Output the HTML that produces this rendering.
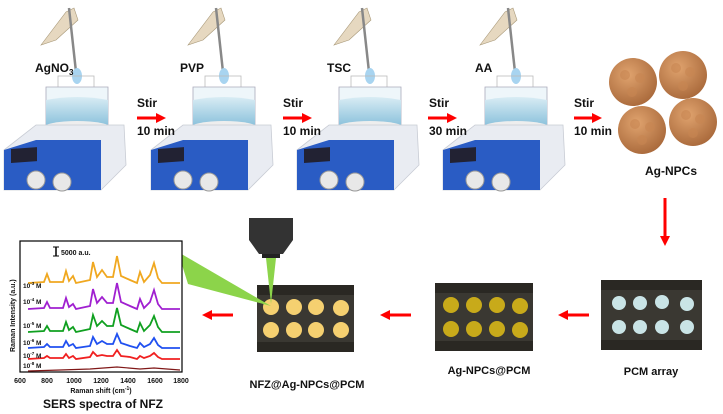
<!DOCTYPE html>
<html><head><meta charset="utf-8"><style>
body{margin:0;width:723px;height:414px;background:#fff;overflow:hidden}
svg{display:block}
text{font-family:"Liberation Sans",Arial,sans-serif;font-weight:bold;fill:#111}
</style></head><body>
<svg width="723" height="414" viewBox="0 0 723 414" xmlns="http://www.w3.org/2000/svg">
<defs>
<marker id="ah" markerWidth="10" markerHeight="10" refX="2" refY="5" orient="auto" markerUnits="userSpaceOnUse"><path d="M0,0 L10,5 L0,10 z" fill="#f00"/></marker>
<linearGradient id="glass" x1="0" y1="0" x2="0" y2="1"><stop offset="0" stop-color="#d8ecf4"/><stop offset="1" stop-color="#7ab8d6"/></linearGradient>
<radialGradient id="ball" cx="0.4" cy="0.35" r="0.7"><stop offset="0" stop-color="#e0a36e"/><stop offset="1" stop-color="#a8683a"/></radialGradient>
<g id="stir">
  <path d="M45,45 L70,12 L78,8 L82,20 L60,40 Z" fill="#e6d8c0" stroke="#a89878" stroke-width="0.6"/>
  <line x1="73" y1="8" x2="80" y2="72" stroke="#888" stroke-width="2.5"/>
  <ellipse cx="81" cy="76" rx="5" ry="8" fill="#a8d4f0"/>
  <rect x="62" y="76" width="36" height="30" fill="none" stroke="#bbb" stroke-width="0.8"/>
  <path d="M50,87 L112,87 L112,128 Q81,136 50,128 Z" fill="#eef6fa" stroke="#aab" stroke-width="0.8"/>
  <path d="M50,100 Q81,94 112,100 L112,128 Q81,136 50,128 Z" fill="url(#glass)"/>
  <ellipse cx="81" cy="132" rx="38" ry="9" fill="#ccc"/>
  <ellipse cx="81" cy="128" rx="34" ry="7" fill="#eee"/>
  <path d="M8,150 L40,125 L128,125 L130,165 L105,190 L8,190 Z" fill="#e9ecf2" stroke="#c8ccd4" stroke-width="0.8"/>
  <path d="M8,150 L40,140 L105,140 L105,190 L8,190 Z" fill="#2a5cc4"/>
  <rect x="15" y="150" width="26" height="14" fill="#223" transform="skewY(-4)"/>
  <circle cx="40" cy="180" r="9" fill="#e8e8e8" stroke="#999"/>
  <circle cx="66" cy="182" r="9" fill="#e8e8e8" stroke="#999"/>
</g>
</defs>

<use href="#stir" x="-4" y="0"/>
<use href="#stir" x="143" y="0"/>
<use href="#stir" x="289" y="0"/>
<use href="#stir" x="435" y="0"/>

<text x="35" y="72" font-size="12">AgNO<tspan font-size="8" dy="3">3</tspan></text>
<text x="180" y="72" font-size="12">PVP</text>
<text x="327" y="72" font-size="12">TSC</text>
<text x="475" y="72" font-size="12">AA</text>

<g stroke="#f00" stroke-width="3" marker-end="url(#ah)">
<line x1="137" y1="118" x2="158" y2="118"/>
<line x1="283" y1="118" x2="304" y2="118"/>
<line x1="428" y1="118" x2="449" y2="118"/>
<line x1="574" y1="118" x2="594" y2="118"/>
<line x1="665" y1="198" x2="665" y2="238"/>
<line x1="589" y1="315" x2="566" y2="315"/>
<line x1="411" y1="315" x2="388" y2="315"/>
<line x1="233" y1="315" x2="210" y2="315"/>
</g>
<g font-size="12">
<text x="137" y="107">Stir</text><text x="137" y="135">10 min</text>
<text x="283" y="107">Stir</text><text x="283" y="135">10 min</text>
<text x="429" y="107">Stir</text><text x="429" y="135">30 min</text>
<text x="574" y="107">Stir</text><text x="574" y="135">10 min</text>
</g>

<g fill="url(#ball)">
<circle cx="633" cy="82" r="24"/><circle cx="683" cy="75" r="24"/>
<circle cx="642" cy="130" r="24"/><circle cx="693" cy="122" r="24"/>
</g>
<g fill="#c88652" opacity="0.6">
<circle cx="625" cy="75" r="5"/><circle cx="640" cy="78" r="5"/><circle cx="632" cy="92" r="5"/>
<circle cx="676" cy="68" r="5"/><circle cx="690" cy="72" r="5"/><circle cx="683" cy="86" r="5"/>
<circle cx="635" cy="124" r="5"/><circle cx="650" cy="127" r="5"/><circle cx="642" cy="140" r="5"/>
<circle cx="686" cy="115" r="5"/><circle cx="700" cy="119" r="5"/><circle cx="693" cy="133" r="5"/>
</g>
<text x="645" y="175" font-size="12">Ag-NPCs</text>

<rect x="601" y="280" width="101" height="70" fill="#2a2823"/>
<rect x="601" y="290" width="101" height="50" fill="#3a3832"/>
<g fill="#c9e4e6">
<circle cx="619" cy="303" r="7"/><circle cx="640" cy="303" r="7"/><circle cx="662" cy="302" r="7"/><circle cx="687" cy="304" r="7"/>
<circle cx="619" cy="327" r="7"/><circle cx="640" cy="327" r="7"/><circle cx="662" cy="327" r="7"/><circle cx="687" cy="327" r="7"/>
</g>
<rect x="435" y="283" width="98" height="68" fill="#2a2823"/>
<rect x="435" y="293" width="98" height="48" fill="#3a3832"/>
<g fill="#c8aa1a">
<circle cx="451" cy="305" r="8"/><circle cx="474" cy="305" r="8"/><circle cx="497" cy="305" r="8"/><circle cx="520" cy="306" r="8"/>
<circle cx="451" cy="329" r="8"/><circle cx="474" cy="329" r="8"/><circle cx="497" cy="329" r="8"/><circle cx="520" cy="330" r="8"/>
</g>
<rect x="257" y="285" width="97" height="67" fill="#2a2823"/>
<rect x="257" y="295" width="97" height="47" fill="#3a3832"/>
<g fill="#f5d070">
<circle cx="271" cy="307" r="8"/><circle cx="294" cy="307" r="8"/><circle cx="316" cy="307" r="8"/><circle cx="341" cy="308" r="8"/>
<circle cx="271" cy="330" r="8"/><circle cx="294" cy="330" r="8"/><circle cx="316" cy="330" r="8"/><circle cx="341" cy="330" r="8"/>
</g>
<text x="651" y="375" font-size="11" text-anchor="middle">PCM array</text>
<text x="489" y="374" font-size="11" text-anchor="middle">Ag-NPCs@PCM</text>
<text x="307" y="388" font-size="11" text-anchor="middle">NFZ@Ag-NPCs@PCM</text>

<path d="M249,218 L293,218 L293,240 L283,254 L259,254 L249,240 Z" fill="#333"/>
<rect x="262" y="254" width="18" height="4" fill="#222"/>
<polygon points="266,258 276,258 271,304" fill="#8cd44a"/>
<polygon points="178,252 188,284 271,306" fill="#8cd44a"/>

<rect x="20" y="241" width="162" height="131" fill="#fff" stroke="#000" stroke-width="1.2"/>
<line x1="56" y1="247" x2="56" y2="256" stroke="#000" stroke-width="1.5"/>
<line x1="53" y1="247" x2="59" y2="247" stroke="#000"/><line x1="53" y1="256" x2="59" y2="256" stroke="#000"/>
<text x="61" y="255" font-size="7">5000 a.u.</text>
<g fill="none" stroke-width="1.8">
<path d="M28,283 L44,282 L47,274 L50,282 L63,282 L66,271 L69,281 L73,276 L76,283 L90,280 L93,262 L97,277 L102,270 L107,277 L113,277 L117,256 L121,276 L130,280 L137,283 L140,272 L144,282 L150,275 L154,263 L158,278 L162,283 L180,283" stroke="#f0a820"/>
<path d="M28,309 L44,308 L47,302 L50,308 L63,308 L66,298 L69,307 L73,304 L76,309 L90,306 L93,289 L97,303 L102,297 L107,303 L113,303 L117,283 L121,302 L130,306 L137,309 L140,299 L144,308 L150,302 L154,290 L158,304 L162,309 L180,309" stroke="#a020d0"/>
<path d="M28,332 L44,331 L47,326 L50,331 L63,331 L66,322 L69,330 L73,327 L76,332 L90,329 L93,315 L97,326 L102,321 L107,326 L113,326 L117,308 L121,325 L130,329 L137,332 L140,323 L144,331 L150,325 L154,316 L158,327 L162,332 L180,332" stroke="#10a020"/>
<path d="M28,348 L44,347 L47,344 L50,347 L63,347 L66,341 L69,346 L73,344 L76,348 L90,346 L93,337 L97,344 L102,341 L107,344 L113,344 L117,334 L121,343 L130,346 L137,348 L140,343 L144,347 L150,344 L154,338 L158,345 L162,348 L180,348" stroke="#2050f0"/>
<path d="M28,359 L44,358 L47,356 L50,358 L63,358 L66,354 L69,358 L73,356 L76,359 L90,357 L93,352 L97,356 L102,355 L107,356 L113,356 L117,350 L121,356 L130,357 L137,359 L140,356 L144,358 L150,356 L154,353 L158,357 L162,359 L180,359" stroke="#f02020"/>
<path d="M28,371 L60,370 L90,369 L117,367 L140,369 L154,368 L180,370" stroke="#801818" stroke-width="1.2"/>
</g>
<g font-size="6.5">
<text x="23" y="288">10<tspan font-size="4.5" dy="-3">-3</tspan><tspan dy="3"> M</tspan></text>
<text x="23" y="304">10<tspan font-size="4.5" dy="-3">-4</tspan><tspan dy="3"> M</tspan></text>
<text x="23" y="328">10<tspan font-size="4.5" dy="-3">-5</tspan><tspan dy="3"> M</tspan></text>
<text x="23" y="345">10<tspan font-size="4.5" dy="-3">-6</tspan><tspan dy="3"> M</tspan></text>
<text x="23" y="358">10<tspan font-size="4.5" dy="-3">-7</tspan><tspan dy="3"> M</tspan></text>
<text x="23" y="368">10<tspan font-size="4.5" dy="-3">-8</tspan><tspan dy="3"> M</tspan></text>
</g>
<text font-size="7" transform="translate(15,352) rotate(-90)">Raman Intensity (a.u.)</text>
<g font-size="7" text-anchor="middle">
<text x="20" y="383">600</text><text x="47" y="383">800</text><text x="74" y="383">1000</text><text x="101" y="383">1200</text><text x="128" y="383">1400</text><text x="155" y="383">1600</text><text x="181" y="383">1800</text>
<text x="101" y="393">Raman shift (cm<tspan font-size="5" dy="-3">-1</tspan><tspan dy="3">)</tspan></text>
</g>
<text x="103" y="408" font-size="12" text-anchor="middle">SERS spectra of NFZ</text>
</svg>
</body></html>
